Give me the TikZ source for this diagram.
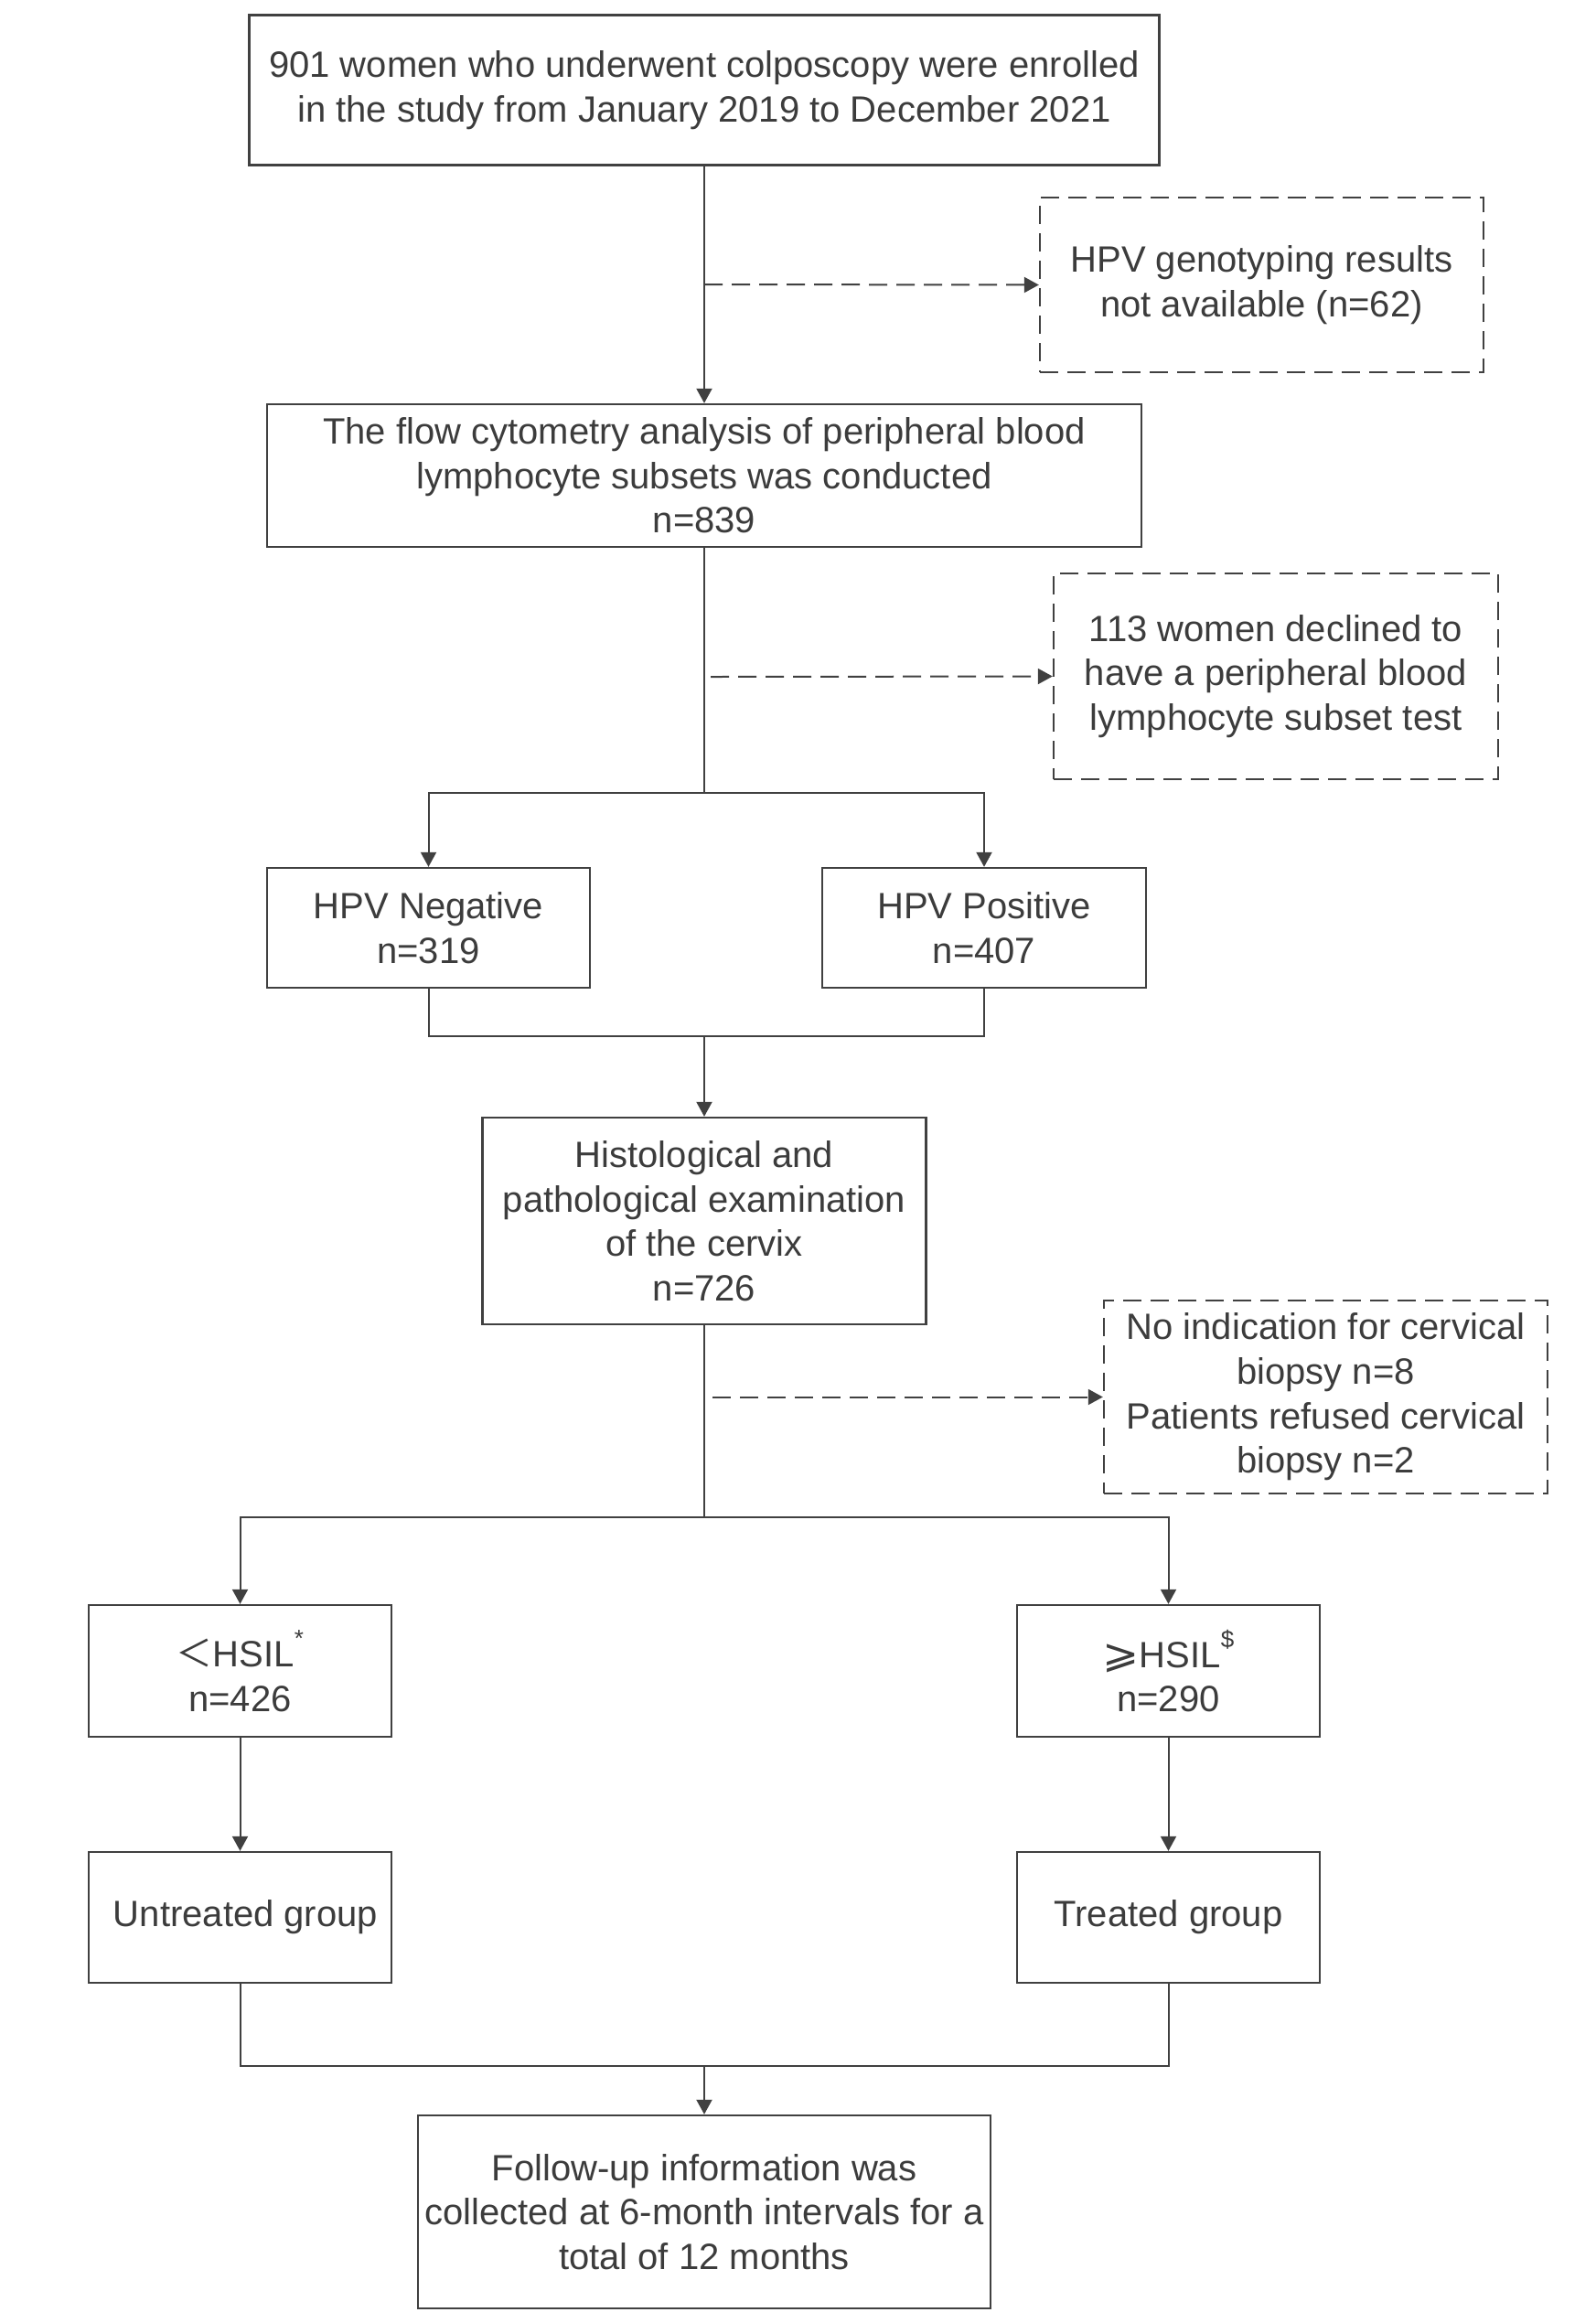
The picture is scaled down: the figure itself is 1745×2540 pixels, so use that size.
\documentclass[tikz,border=0pt]{standalone}
\usepackage{fontspec}
\setmainfont{Liberation Sans}
\newfontfamily\cjkfont{Noto Sans CJK SC}
\newfontfamily\symfont{DejaVu Sans}
\usetikzlibrary{arrows.meta}
\definecolor{lc}{HTML}{404040}
\definecolor{tc}{HTML}{3C3C3C}
\newcommand{\supmark}[1]{\raisebox{0.55em}{\fontsize{13pt}{13pt}\selectfont #1}}
\begin{document}
\begin{tikzpicture}[x=0.5pt,y=-0.5pt,
  every node/.style={font=\fontsize{20pt}{24.3pt}\selectfont, text=tc},
  solidbox/.style={draw=lc, line width=1.2pt, inner sep=0pt, align=center},
  dashbox/.style={solidbox, dash pattern=on 10pt off 5pt},
  conn/.style={draw=lc, line width=1pt},
  arr/.style={conn, -{Triangle[length=8pt,width=8.5pt]}},
  darr/.style={arr, dash pattern=on 10pt off 5pt}]
\useasboundingbox (0,0) rectangle (1745,2540);
\fill[white] (0,0) rectangle (1745,2540);

\node[solidbox, minimum width=497.5pt, minimum height=82pt] (b1) at (770,98.5)
  {901 women who underwent colposcopy were enrolled\\in the study from January 2019 to December 2021};
\node[dashbox, minimum width=242.5pt, minimum height=95.5pt] (d1) at (1379.5,311.5)
  {HPV genotyping results\\not available (n=62)};
\node[solidbox, minimum width=478pt, minimum height=78pt] (b2) at (770,520)
  {The flow cytometry analysis of peripheral blood\\lymphocyte subsets was conducted\\n=839};
\node[dashbox, minimum width=243pt, minimum height=112.5pt] (d2) at (1395,739.5)
  {113 women declined to\\have a peripheral blood\\lymphocyte subset test};
\node[solidbox, minimum width=176.5pt, minimum height=65.5pt] (neg) at (468.5,1014.5)
  {HPV Negative\\n=319};
\node[solidbox, minimum width=177pt, minimum height=65.5pt] (pos) at (1076,1014.5)
  {HPV Positive\\n=407};
\node[solidbox, minimum width=242.5pt, minimum height=113pt] (b3) at (770,1335)
  {Histological and\\pathological examination\\of the cervix\\n=726};
\node[dashbox, minimum width=242.5pt, minimum height=105.5pt] (d3) at (1449.5,1527.5)
  {No indication for cervical\\biopsy n=8\\Patients refused cervical\\biopsy n=2};
\node[solidbox, minimum width=165.5pt, minimum height=72pt] (lt) at (262.5,1827)
  {{\cjkfont ＜}HSIL\supmark{*}\\n=426};
\node[solidbox, minimum width=165.5pt, minimum height=72pt] (ge) at (1277.5,1827)
  {\scalebox{1.2}[1.1]{\symfont ⩾}HSIL\supmark{\$}\\n=290};
\node[solidbox, minimum width=165.5pt, minimum height=71.5pt] (un) at (262.5,2096.5)
  {\hspace{6pt}Untreated group};
\node[solidbox, minimum width=165.5pt, minimum height=71.5pt] (tr) at (1277.5,2096.5)
  {Treated group};
\node[solidbox, minimum width=313pt, minimum height=105.5pt] (fin) at (770,2418.5)
  {Follow-up information was\\collected at 6-month intervals for a\\total of 12 months};

\coordinate (s1) at (770,311);
\coordinate (s2) at (777,740);
\coordinate (s3) at (779,1527.5);
\coordinate (br1) at (770,867);
\coordinate (m1) at (770,1133);
\coordinate (br2) at (770,1659);
\coordinate (m2) at (770,2259);

\draw[arr] (b1.south) -- (b2.north);
\draw[darr] (s1) -- (d1.west);
\draw[conn] (b2.south) -- (br1);
\draw[darr] (s2) -- (d2.west);
\draw[arr] (br1) -| (neg.north);
\draw[arr] (br1) -| (pos.north);
\draw[conn] (neg.south) |- (m1);
\draw[conn] (pos.south) |- (m1);
\draw[arr] (m1) -- (b3.north);
\draw[conn] (b3.south) -- (br2);
\draw[darr] (s3) -- (d3.west);
\draw[arr] (br2) -| (lt.north);
\draw[arr] (br2) -| (ge.north);
\draw[arr] (lt.south) -- (un.north);
\draw[arr] (ge.south) -- (tr.north);
\draw[conn] (un.south) |- (m2);
\draw[conn] (tr.south) |- (m2);
\draw[arr] (m2) -- (fin.north);
\end{tikzpicture}
\end{document}
